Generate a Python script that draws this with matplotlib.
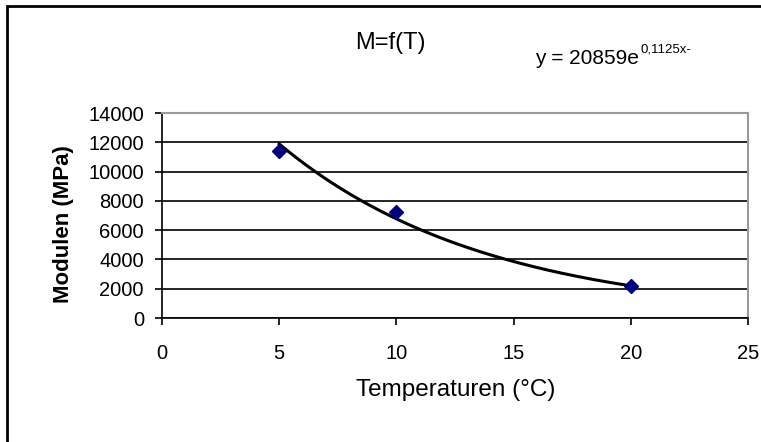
import numpy as np
import matplotlib
matplotlib.use("Agg")
import matplotlib.pyplot as plt
from matplotlib.patches import Rectangle

plt.rcParams["font.family"] = ["Liberation Sans", "DejaVu Sans"]

# gemeten moduli per temperatuur
temperatuur = [5, 10, 20]
modulus = [11400, 7250, 2180]

# exponentiële trendlijn y = a * e^(b x)
a_fit = 20859
b_fit = -0.1125

x_ticks = [0, 5, 10, 15, 20, 25]
y_ticks = [0, 2000, 4000, 6000, 8000, 10000, 12000, 14000]

fig = plt.figure(figsize=(7.61, 4.42), dpi=100)
ax = fig.add_axes([0.2129, 0.2805, 0.770, 0.4638])

x_fit = np.linspace(temperatuur[0], temperatuur[-1], 200)
y_fit = a_fit * np.exp(b_fit * x_fit)
ax.plot(x_fit, y_fit, color="black", lw=2.2, zorder=3)
ax.plot(temperatuur, modulus, linestyle="none", marker="D", markersize=7.5,
        color="#000080", zorder=4)

ax.set_xlim(0, 25)
ax.set_ylim(0, 14000)
ax.set_xticks(x_ticks)
ax.set_yticks(y_ticks)
ax.yaxis.grid(True, color="black", lw=1.2)
ax.set_axisbelow(True)
ax.tick_params(axis="both", direction="out", length=5, width=1.2,
               labelsize=14.5)
ax.tick_params(axis="y", pad=8)
ax.tick_params(axis="x", pad=14)
for s in ["left", "bottom"]:
    ax.spines[s].set_color("black")
    ax.spines[s].set_linewidth(1.2)
for s in ["top", "right"]:
    ax.spines[s].set_color("#9a9a9a")
    ax.spines[s].set_linewidth(1.5)

fig.text(390 / 761, 1 - 43 / 442, "M=f(T)", ha="center", va="center",
         fontsize=17)
# vergelijking van de trendlijn, exponent direct achter de "e"
eq = fig.text(535 / 761, 1 - 58 / 442, "y = 20859e", ha="left",
              va="center", fontsize=15)
ax.annotate("0,1125x-", xy=(1, 0.62), xycoords=eq, xytext=(1, 0),
            textcoords="offset points", ha="left", va="bottom",
            fontsize=9.5, annotation_clip=False)
fig.text(63 / 761, 1 - 224 / 442, "Modulen (MPa)", rotation=90,
         ha="center", va="center", fontsize=16, fontweight="bold")
fig.text(456 / 761, 1 - 390 / 442, "Temperaturen (°C)", ha="center",
         va="center", fontsize=17.5)

# kader rond de grafiek
fig.patches.append(Rectangle((7 / 761, -0.1), 1.2, 1 - 6 / 442 + 0.1,
                             transform=fig.transFigure, fill=False,
                             edgecolor="black", lw=2))

fig.savefig("out.png", dpi=100)
